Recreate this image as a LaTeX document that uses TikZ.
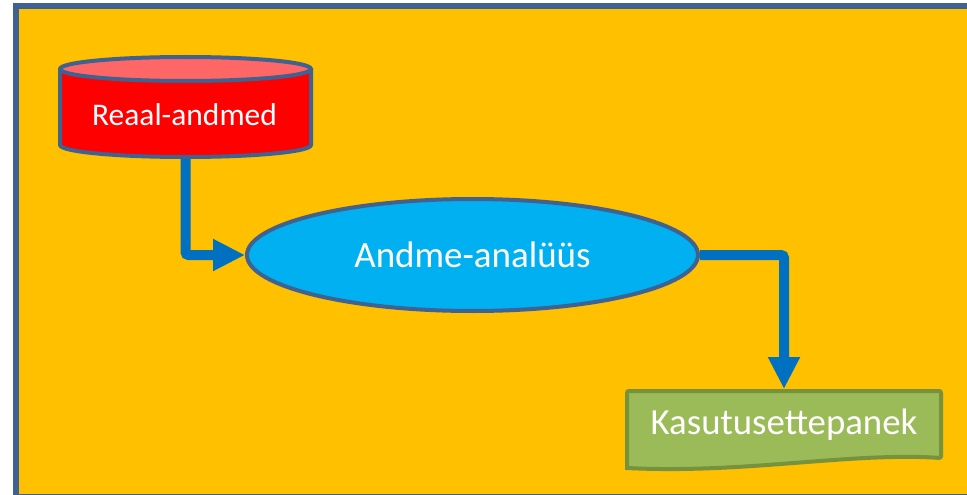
\documentclass[tikz,border=0pt]{standalone}
\usepackage{fontspec}
\setmainfont{Carlito}
\usetikzlibrary{arrows.meta,shapes.geometric}
\definecolor{bgorange}{HTML}{FFC000}
\definecolor{frameblue}{HTML}{3F6290}
\definecolor{arrowblue}{HTML}{0070C0}
\definecolor{cylred}{HTML}{FF0000}
\definecolor{cyltop}{HTML}{FF6666}
\definecolor{ellcyan}{HTML}{00B0F0}
\definecolor{docgreen}{HTML}{9BBB59}
\definecolor{docborder}{HTML}{76923C}
\pgfdeclarelayer{bglayer}
\pgfdeclarelayer{arrowlayer}
\pgfsetlayers{bglayer,arrowlayer,main}
\tikzset{
  flow/.style={arrowblue, line width=10pt, rounded corners=3pt, -{Triangle[length=32pt,width=30pt]}},
  outline/.style={frameblue, line width=4pt},
  label/.style={text=white, inner sep=0pt},
}
\begin{document}
\begin{tikzpicture}[x=1pt,y=-1pt]
\useasboundingbox (0,0) rectangle (967,495);
\clip (0,0) rectangle (967,495);
\begin{pgfonlayer}{bglayer}
\fill[white] (0,0) rectangle (967,495);
\draw[frameblue, line width=5.5pt, fill=bgorange] (16,6) rectangle (990,497);
\end{pgfonlayer}

% cylinder
\node[minimum width=255pt, minimum height=104pt, inner sep=0pt, outer sep=0pt] (reaal) at (185.5,107) {};
\fill[cylred] (60,69) rectangle (311,145);
\fill[cylred] (185.5,145) ellipse [x radius=125.5, y radius=12];
\draw[outline] (60,69) -- (60,145) arc[start angle=180, end angle=0, x radius=125.5, y radius=12] -- (311,69);
\draw[outline, fill=cyltop] (185.5,69) ellipse [x radius=125.5, y radius=12];
\node[label, font=\fontsize{31.5}{36}\selectfont] (reaaltext) at (184.5,115) {Reaal-andmed};

% ellipse
\node[ellipse, draw=frameblue, line width=4pt, fill=ellcyan, minimum width=451pt, minimum height=112pt, inner sep=0pt, text=white, font=\fontsize{37}{42}\selectfont] (anal) at (472.5,255) {Andme-analüüs};

% document
\node[minimum width=314pt, minimum height=77pt, inner sep=0pt, outer sep=0pt] (kas) at (784,429.5) {};
\draw[docborder, line width=4pt, fill=docgreen, rounded corners=2pt] (627,391) -- (941,391) -- (941,458) [sharp corners] .. controls (850,452) and (745,474) .. (627,468) [rounded corners=2pt] -- cycle;
\node[label, font=\fontsize{36.8}{42}\selectfont] (kastext) at (784,425) {Kasutusettepanek};

\begin{pgfonlayer}{arrowlayer}
\draw[flow] ([yshift=8pt]reaal.south) |- (anal.west);
\draw[flow] (anal.east) -| ([yshift=2pt]kas.north);
\end{pgfonlayer}
\end{tikzpicture}
\end{document}
